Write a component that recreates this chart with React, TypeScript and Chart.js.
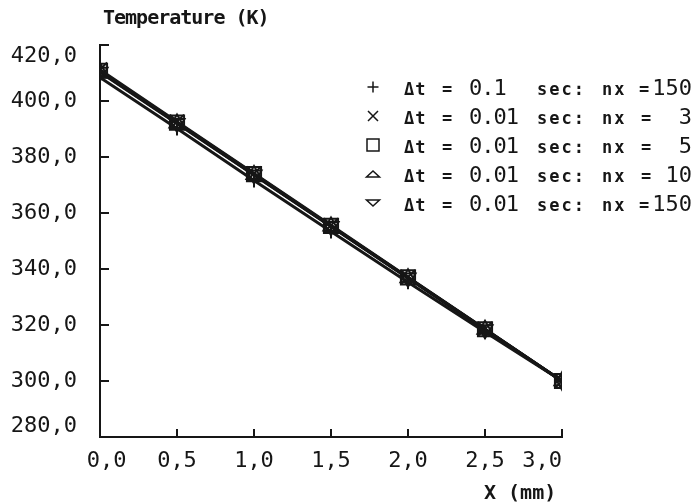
import React, { useEffect, useRef } from "react";
import { Chart, registerables } from "chart.js";

Chart.register(...registerables);

// ---- data ----
const xPositions = [0, 0.5, 1.0, 1.5, 2.0, 2.5, 3.0];
const tempDt01Nx150 = [408.4, 390.2, 371.6, 353.4, 335.3, 317.5, 300.0];
const tempDt001Nx3 = [411.2, 392.6, 374.1, 355.6, 337.1, 318.6, 300.0];
const tempDt001Nx5 = [410.8, 392.3, 373.9, 355.4, 337.0, 318.5, 300.0];
const tempDt001Nx10 = [410.5, 392.1, 373.7, 355.3, 336.8, 318.4, 300.0];
const tempDt001Nx150 = [410.3, 392.0, 373.6, 355.2, 336.8, 318.4, 300.0];

const seriesDt = ["0.1", "0.01", "0.01", "0.01", "0.01"];
const seriesNx = ["150", "3", "5", "10", "150"];

const xTickValues = [0, 0.5, 1.0, 1.5, 2.0, 2.5, 3.0];
const yTickValues = [280, 300, 320, 340, 360, 380, 400, 420];

const yAxisTitle = "Temperature (K)";
const xAxisTitle = "X (mm)";

const INK = "#161616";
const MONO = "'DejaVu Sans Mono', monospace";

const seriesValues = [tempDt01Nx150, tempDt001Nx3, tempDt001Nx5, tempDt001Nx10, tempDt001Nx150];
const pointStyles = ["cross", "crossRot", "rect", "triangle", "triangle"];
const pointRotations = [0, 0, 0, 0, 180];
const pointRadii = [7, 10, 10, 8.7, 8.7];

function fmt(v: number) {
  return v.toFixed(1).replace(".", ",");
}

function drawLegendSymbol(ctx: CanvasRenderingContext2D, kind: number, cx: number, cy: number) {
  ctx.beginPath();
  if (kind === 0) {
    ctx.moveTo(cx - 5.5, cy);
    ctx.lineTo(cx + 5.5, cy);
    ctx.moveTo(cx, cy - 5.5);
    ctx.lineTo(cx, cy + 5.5);
  } else if (kind === 1) {
    ctx.moveTo(cx - 5, cy - 5);
    ctx.lineTo(cx + 5, cy + 5);
    ctx.moveTo(cx + 5, cy - 5);
    ctx.lineTo(cx - 5, cy + 5);
  } else if (kind === 2) {
    ctx.rect(cx - 6, cy - 6, 12, 12);
  } else if (kind === 3) {
    ctx.moveTo(cx - 6.5, cy + 3);
    ctx.lineTo(cx + 6.5, cy + 3);
    ctx.lineTo(cx, cy - 3);
    ctx.closePath();
  } else {
    ctx.moveTo(cx - 6.5, cy - 3);
    ctx.lineTo(cx + 6.5, cy - 3);
    ctx.lineTo(cx, cy + 3);
    ctx.closePath();
  }
  ctx.stroke();
}

const decorPlugin = {
  id: "decor",
  afterDraw(chart: any) {
    const { ctx, chartArea, scales } = chart;
    const xs = scales.x;
    const ys = scales.y;
    ctx.save();
    ctx.strokeStyle = INK;
    ctx.fillStyle = INK;
    ctx.lineWidth = 2;
    // inward tick marks
    ctx.beginPath();
    xTickValues.forEach((v) => {
      if (v === xTickValues[0]) return;
      const px = Math.round(xs.getPixelForValue(v));
      ctx.moveTo(px, chartArea.bottom);
      ctx.lineTo(px, chartArea.bottom - 8);
    });
    yTickValues.forEach((v) => {
      if (v === yTickValues[0]) return;
      const py = Math.round(ys.getPixelForValue(v));
      ctx.moveTo(chartArea.left, py);
      ctx.lineTo(chartArea.left + 9, py);
    });
    ctx.stroke();

    // axis titles
    ctx.textAlign = "left";
    ctx.textBaseline = "alphabetic";
    ctx.font = `bold 20px ${MONO}`;
    (ctx as any).letterSpacing = "-1px";
    ctx.fillText(yAxisTitle, 103, 24);
    ctx.font = `bold 20px ${MONO}`;
    (ctx as any).letterSpacing = "0px";
    ctx.fillText(xAxisTitle, 484, 499);

    // legend
    ctx.lineWidth = 1.5;
    for (let i = 0; i < seriesDt.length; i++) {
      const cy = 87 + 29 * i;
      const base = cy + 8;
      drawLegendSymbol(ctx, i, 373, cy);
      ctx.textAlign = "left";
      ctx.font = `bold 17px ${MONO}`;
      (ctx as any).letterSpacing = "1px";
      ctx.fillText("\u0394t", 404, base);
      (ctx as any).letterSpacing = "0px";
      ctx.fillText("=", 442, base);
      ctx.font = `22px ${MONO}`;
      (ctx as any).letterSpacing = "-1px";
      ctx.fillText(seriesDt[i], 469, base);
      ctx.font = `bold 17px ${MONO}`;
      (ctx as any).letterSpacing = "2px";
      ctx.fillText("sec:", 537, base);
      ctx.fillText("nx", 602, base);
      (ctx as any).letterSpacing = "0px";
      ctx.fillText("=", seriesNx[i].length === 3 ? 639 : 641, base);
      ctx.font = `22px ${MONO}`;
      ctx.textAlign = "right";
      ctx.fillText(seriesNx[i], 692, base);
    }
    ctx.restore();
  },
};

export default function App() {
  const canvasRef = useRef<HTMLCanvasElement | null>(null);

  useEffect(() => {
    const canvas = canvasRef.current;
    if (!canvas) return;
    const datasets = seriesValues.map((vals, i) => ({
      label: `\u0394t = ${seriesDt[i]} sec: nx =${seriesNx[i]}`,
      data: xPositions.map((x, j) => ({ x, y: vals[j] })),
      borderColor: INK,
      backgroundColor: "rgba(0,0,0,0)",
      borderWidth: 3,
      pointStyle: pointStyles[i],
      pointRotation: pointRotations[i],
      pointRadius: pointRadii[i],
      pointBorderWidth: 2,
      pointBorderColor: INK,
      pointBackgroundColor: "rgba(0,0,0,0)",
      tension: 0,
      fill: false,
    }));

    const tickFont = { family: MONO, size: 22, lineHeight: 1.0 };

    const chart = new Chart(canvas, {
      type: "line",
      data: { datasets },
      plugins: [decorPlugin],
      options: {
        animation: false,
        responsive: false,
        devicePixelRatio: 1,
        layout: { padding: { top: 40, right: 133, left: 0, bottom: 0 } },
        plugins: {
          legend: { display: false },
          tooltip: { enabled: false },
          title: { display: false },
        },
        scales: {
          x: {
            type: "linear",
            min: xTickValues[0],
            max: xTickValues[xTickValues.length - 1],
            afterBuildTicks: (s: any) => {
              s.ticks = xTickValues.map((v) => ({ value: v }));
            },
            afterFit: (s: any) => {
              s.height = 66;
            },
            grid: { display: false, drawTicks: false },
            border: { display: true, color: INK, width: 2 },
            ticks: {
              color: INK,
              font: tickFont,
              padding: 13,
              maxRotation: 0,
              autoSkip: false,
              callback: (v: any) => {
                const n = Number(v);
                if (n === xTickValues[0]) return " " + fmt(n);
                if (n === xTickValues[xTickValues.length - 1]) return fmt(n) + "   ";
                return fmt(n);
              },
            },
          },
          y: {
            type: "linear",
            min: yTickValues[0],
            max: yTickValues[yTickValues.length - 1],
            afterBuildTicks: (s: any) => {
              s.ticks = yTickValues.map((v) => ({ value: v }));
            },
            afterFit: (s: any) => {
              s.width = 100;
            },
            grid: { display: false, drawTicks: false },
            border: { display: true, color: INK, width: 2 },
            ticks: {
              color: INK,
              font: tickFont,
              padding: 23,
              autoSkip: false,
              callback: (v: any) => {
                const n = Number(v);
                if (n === yTickValues[yTickValues.length - 1]) return ["", fmt(n)];
                if (n === yTickValues[0]) return [fmt(n), ""];
                return fmt(n);
              },
            },
          },
        },
      } as any,
    });
    return () => chart.destroy();
  }, []);

  return (
    <div style={{ position: "fixed", left: 0, top: 0, width: 695, height: 503, background: "#fff" }}>
      <canvas ref={canvasRef} width={695} height={503} style={{ display: "block", width: 695, height: 503 }} />
    </div>
  );
}
